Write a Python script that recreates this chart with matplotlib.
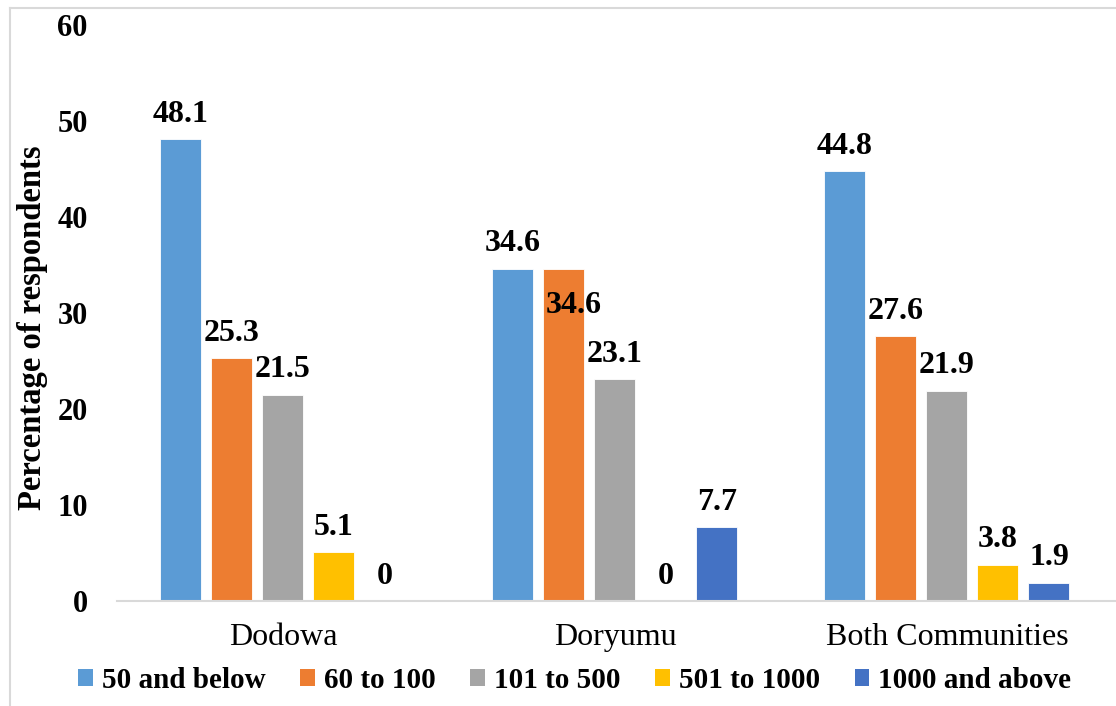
import numpy as np
import matplotlib
matplotlib.use("Agg")
import matplotlib.pyplot as plt
from matplotlib.patches import Patch
from matplotlib.lines import Line2D

plt.rcParams['font.family'] = ['Liberation Serif', 'DejaVu Serif']

# percentage of respondents per distance band
communities = ["Dodowa", "Doryumu", "Both Communities"]
bands = ["50 and below", "60 to 100", "101 to 500", "501 to 1000", "1000 and above"]
below_50 = [48.1, 34.6, 44.8]
from_60_to_100 = [25.3, 34.6, 27.6]
from_101_to_500 = [21.5, 23.1, 21.9]
from_501_to_1000 = [5.1, 0, 3.8]
above_1000 = [0, 7.7, 1.9]
yticks = [0, 10, 20, 30, 40, 50, 60]

series = [below_50, from_60_to_100, from_101_to_500, from_501_to_1000, above_1000]
colors = ["#5B9BD5", "#ED7D31", "#A5A5A5", "#FFC000", "#4472C4"]

fig = plt.figure(figsize=(11.16, 7.06), dpi=100)
ax = fig.add_axes([0.1048, 0.1487, 0.8925, 0.8159])

x = np.arange(len(communities))
width = 0.1235
step = 0.1536

for i, (vals, col) in enumerate(zip(series, colors)):
    pos = x + (i - 2) * step
    ax.bar(pos, vals, width, color=col, edgecolor="white", linewidth=0.6, zorder=2)
    for j, (px, v) in enumerate(zip(pos, vals)):
        if i == 1 and j == 1:
            # label pushed down inside the bar so it doesn't clash with its neighbour
            ax.annotate(f"{v:g}", (px, v), xytext=(7, -32), textcoords="offset points",
                        ha="center", va="baseline", fontsize=23, fontweight="bold")
        else:
            ax.annotate(f"{v:g}", (px, v), xytext=(0, 12.5), textcoords="offset points",
                        ha="center", va="baseline", fontsize=23, fontweight="bold")

ax.set_xlim(-0.5, 2.5)
ax.set_ylim(0, 60)
ax.set_yticks(yticks)
ax.set_yticklabels([str(t) for t in yticks], fontsize=22, fontweight="bold")
ax.set_xticks(x)
ax.set_xticklabels(communities, fontsize=23)
ax.tick_params(axis="y", length=0, pad=21)
ax.tick_params(axis="x", length=0, pad=16)
ax.set_ylabel("Percentage of respondents", fontsize=23.5, fontweight="bold")
ax.yaxis.set_label_coords(-0.069, 0.474)

for s in ["top", "right", "left"]:
    ax.spines[s].set_visible(False)
ax.spines["bottom"].set_color("#D9D9D9")
ax.spines["bottom"].set_linewidth(1.5)
ax.spines["bottom"].set_bounds(-0.5, 2.52)
ax.spines["bottom"].set_clip_on(False)

handles = [Patch(facecolor=c, edgecolor="none") for c in colors]
fig.legend(handles, bands, loc="center", bbox_to_anchor=(0.515, 0.036), ncol=5,
           frameon=False, prop={"weight": "bold", "size": 21},
           handlelength=0.5, handleheight=0.5, handletextpad=0.3, columnspacing=1.2)

# thin frame around the chart area
fig.add_artist(Line2D([10 / 1116, 10 / 1116], [0, 1 - 8 / 706], transform=fig.transFigure,
                      color="#D9D9D9", lw=1.5))
fig.add_artist(Line2D([10 / 1116, 1], [1 - 8 / 706, 1 - 8 / 706], transform=fig.transFigure,
                      color="#D9D9D9", lw=1.5))

fig.savefig("out.png", dpi=100)
